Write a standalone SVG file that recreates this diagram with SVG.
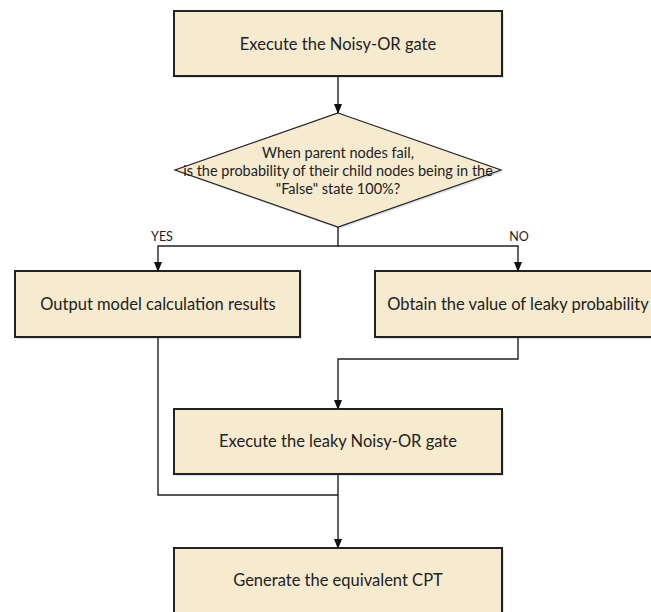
<svg xmlns="http://www.w3.org/2000/svg" width="651" height="612" viewBox="0 0 651 612">
<defs>
<marker id="arr" markerWidth="10" markerHeight="10" refX="9" refY="5" orient="auto" markerUnits="userSpaceOnUse">
<path d="M0,1 L10,5 L0,9 Z" fill="#111"/>
</marker>
<style>
.box{fill:#F6EBCF;stroke:#222;stroke-width:2}
.sh{fill:#dde3ec}
.t{font-family:Lato,"Liberation Sans",sans-serif;font-size:16.5px;fill:#222;text-anchor:middle}
.d{font-family:Lato,"Liberation Sans",sans-serif;font-size:14.5px;fill:#222;text-anchor:middle}
.lbl{font-family:Lato,"Liberation Sans",sans-serif;font-size:12.5px;fill:#222;text-anchor:middle}
.c{fill:none;stroke:#222;stroke-width:1.4}
</style>
</defs>
<rect width="651" height="612" fill="#fff"/>
<g id="n1">
<rect class="sh" x="176" y="13" width="328" height="65"/>
<rect class="box" x="174" y="11" width="328" height="65"/>
<text class="t" x="338" y="50">Execute the Noisy-OR gate</text>
</g>
<g id="n2">
<polygon class="sh" points="339,115 503,172 339,229 177,172"/>
<polygon class="box" points="338,113 501,170 338,227 175,170" style="stroke-width:1.2"/>
<text class="d" x="338" y="158">When parent nodes fail,</text>
<text class="d" x="338" y="176">is the probability of their child nodes being in the</text>
<text class="d" x="338" y="194">"False" state 100%?</text>
</g>
<g id="n3">
<rect class="sh" x="17" y="273" width="285" height="66"/>
<rect class="box" x="15" y="271" width="285" height="66"/>
<text class="t" x="158" y="310">Output model calculation results</text>
</g>
<g id="n4">
<rect class="sh" x="377" y="273" width="286" height="66"/>
<rect class="box" x="375" y="271" width="286" height="66"/>
<text class="t" x="518" y="310">Obtain the value of leaky probability</text>
</g>
<g id="n5">
<rect class="sh" x="176" y="411" width="328" height="65"/>
<rect class="box" x="174" y="409" width="328" height="65"/>
<text class="t" x="338" y="447">Execute the leaky Noisy-OR gate</text>
</g>
<g id="n6">
<rect class="sh" x="176" y="550" width="328" height="70"/>
<rect class="box" x="174" y="548" width="328" height="70"/>
<text class="t" x="338" y="586">Generate the equivalent CPT</text>
</g>
<g id="connectors">
<path class="c" d="M338,76 V113" marker-end="url(#arr)"/>
<path class="c" d="M338,227 V246 H158 V271" marker-end="url(#arr)"/>
<path class="c" d="M338,246 H518 V271" marker-end="url(#arr)"/>
<path class="c" d="M518,337 V359 H338 V409" marker-end="url(#arr)"/>
<path class="c" d="M158,337 V495 H338"/>
<path class="c" d="M338,474 V548" marker-end="url(#arr)"/>
<text class="lbl" x="162" y="241">YES</text>
<text class="lbl" x="519" y="241">NO</text>
</g>
</svg>
